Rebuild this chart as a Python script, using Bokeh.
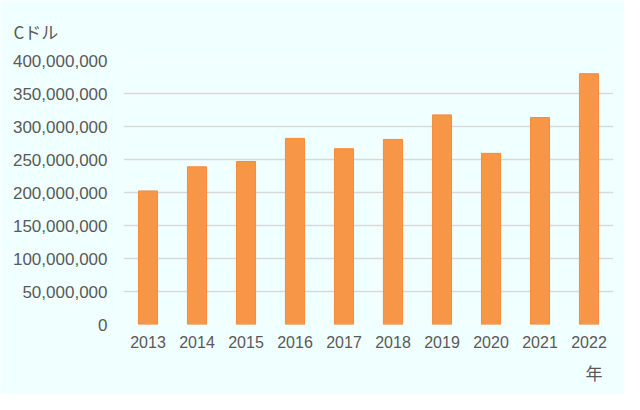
from bokeh.plotting import figure
from bokeh.models import ColumnDataSource, NumeralTickFormatter, Range1d, Title, FixedTicker
from bokeh.embed import file_html
from bokeh.resources import INLINE

years = ["2013", "2014", "2015", "2016", "2017", "2018", "2019", "2020", "2021", "2022"]
values = [202400000, 238900000, 247000000, 282000000, 266400000,
          280400000, 317600000, 259300000, 313500000, 380000000]
y_ticks = [0, 50000000, 100000000, 150000000, 200000000, 250000000,
           300000000, 350000000, 400000000]
unit_label = "Cドル"
x_label = "年"

BG = "#F0FFFF"
TXT = "#595959"

src = ColumnDataSource(dict(year=years, value=values))

p = figure(x_range=years, y_range=Range1d(0, 400000000),
           width=624, height=394, output_backend="svg", toolbar_location=None,
           min_border_left=123, min_border_right=11, min_border_top=59, min_border_bottom=70)
p.background_fill_color = BG
p.border_fill_color = BG
p.outline_line_color = None

p.vbar(x="year", top="value", width=0.39, source=src,
       fill_color="#F79646", line_color="#F58B3A", line_width=1)

p.yaxis.ticker = FixedTicker(ticks=y_ticks)
p.yaxis.formatter = NumeralTickFormatter(format="0,0")
p.yaxis.axis_line_color = None
p.yaxis.major_tick_line_color = None
p.yaxis.minor_tick_line_color = None
p.yaxis.major_tick_out = 0
p.yaxis.major_label_standoff = 16
p.yaxis.major_label_text_font = "Liberation Sans"
p.yaxis.major_label_text_font_size = "17px"
p.yaxis.major_label_text_color = TXT

p.xaxis.axis_line_color = None
p.xaxis.major_tick_line_color = None
p.xaxis.minor_tick_line_color = None
p.xaxis.major_tick_out = 0
p.xaxis.major_label_standoff = 11
p.xaxis.major_label_text_font = "Liberation Sans"
p.xaxis.major_label_text_font_size = "16px"
p.xaxis.major_label_text_color = TXT

p.xgrid.grid_line_color = None
p.ygrid.grid_line_color = "#D9D9D9"
p.ygrid.grid_line_width = 1.5

p.add_layout(Title(text=unit_label, align="left", offset=-110, standoff=33,
                   text_font="Noto Sans CJK JP", text_font_size="17px",
                   text_font_style="normal", text_color=TXT), "above")
p.add_layout(Title(text=x_label, align="right", offset=11, standoff=15,
                   text_font="Noto Sans CJK JP", text_font_size="17px",
                   text_font_style="normal", text_color=TXT), "below")

open("out.html", "w").write(file_html(p, INLINE))
